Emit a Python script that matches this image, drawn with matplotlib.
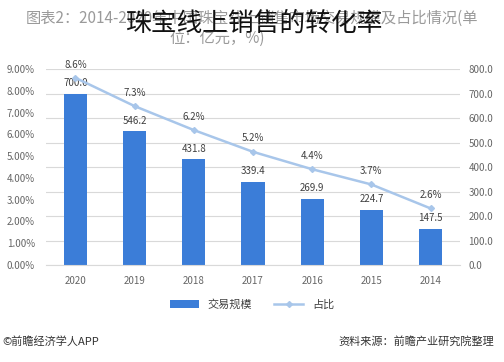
import matplotlib.pyplot as plt
import numpy as np

plt.rcParams['font.family'] = ['Noto Sans CJK SC', 'DejaVu Sans']

# data, laid out 2020 -> 2014 as in the reference
years = ["2020", "2019", "2018", "2017", "2016", "2015", "2014"]
scale = [700.0, 546.2, 431.8, 339.4, 269.9, 224.7, 147.5]   # 交易规模 (亿元)
share = [8.6, 7.3, 6.2, 5.2, 4.4, 3.7, 2.6]                 # 占比 (%)

bar_color = "#3b7dd8"
line_color = "#a8c6ea"
tick_color = "#666666"

fig = plt.figure(figsize=(5.04, 3.62), dpi=100)
ax = fig.add_axes([0.091, 0.268, 0.822, 0.541])
ax2 = ax.twinx()
x = np.arange(len(years))

# bars on the right axis
ax.bar(x, scale, width=0.39, color=bar_color, zorder=2, label="交易规模")
ax.set_ylim(0, 800)
ax.set_yticks(np.arange(0, 801, 100))
ax.set_yticklabels([f"{v:.1f}" for v in np.arange(0, 801, 100)])
ax.set_xlim(-0.5, len(years) - 0.5)
ax.set_xticks(x)
ax.set_xticklabels(years)
ax.grid(axis="y", color="#d9d9d9", linewidth=0.8, zorder=0)
for s in ax.spines.values():
    s.set_visible(False)
ax.spines["bottom"].set_visible(True)
ax.spines["bottom"].set_color("#d9d9d9")
for xi, v in zip(x, scale):
    ax.annotate(f"{v:.1f}", (xi, v), xytext=(0, 4), textcoords="offset points",
                ha="center", va="bottom", fontsize=7, color="#404040")

# share line on the left axis
ax2.plot(x, share, color=line_color, linewidth=1.8, marker="D", markersize=3,
         markerfacecolor=line_color, markeredgecolor=line_color, zorder=3, label="占比")
ax2.set_ylim(0, 9)
ax2.set_yticks(np.arange(0, 10, 1))
ax2.set_yticklabels([f"{v:.2f}%" for v in np.arange(0, 10, 1)])
for s in ax2.spines.values():
    s.set_visible(False)
for xi, v in zip(x, share):
    ax2.annotate(f"{v:.1f}%", (xi, v), xytext=(0, 6), textcoords="offset points",
                 ha="center", va="bottom", fontsize=7, color="#404040")

# put the scale axis on the right and the share axis on the left
ax.yaxis.tick_right()
ax2.yaxis.tick_left()
ax.tick_params(axis="x", length=0, labelsize=7, colors=tick_color, pad=8)
ax.tick_params(axis="y", length=0, labelsize=7, colors=tick_color, pad=6)
ax2.tick_params(axis="y", length=0, labelsize=7, colors=tick_color, pad=8)

# legend
h1, l1 = ax.get_legend_handles_labels()
h2, l2 = ax2.get_legend_handles_labels()
fig.legend(h1 + h2, l1 + l2, loc="center", bbox_to_anchor=(0.5, 0.158), ncol=2,
           frameon=False, fontsize=8, handlelength=2.6, columnspacing=2.0,
           labelcolor="#404040")

# header and overlaid title
fig.text(0.5, 0.95, "图表2：2014-2020年中国珠宝线上销售市场交易规模及占比情况(单",
         ha="center", va="center", fontsize=11, color="#9a9a9a")
fig.text(0.43, 0.893, "位：亿元，%)", ha="center", va="center", fontsize=11, color="#9a9a9a")
fig.text(0.505, 0.935, "珠宝线上销售的转化率", ha="center", va="center",
         fontsize=18.5, color="#111111")

# footer
fig.text(0.98, 0.058, "资料来源：前瞻产业研究院整理", ha="right", va="center",
         fontsize=8, color="#333333")
fig.text(0.005, 0.058, "©前瞻经济学人APP", ha="left", va="center",
         fontsize=8, color="#333333")

fig.savefig("out.png", dpi=100)
